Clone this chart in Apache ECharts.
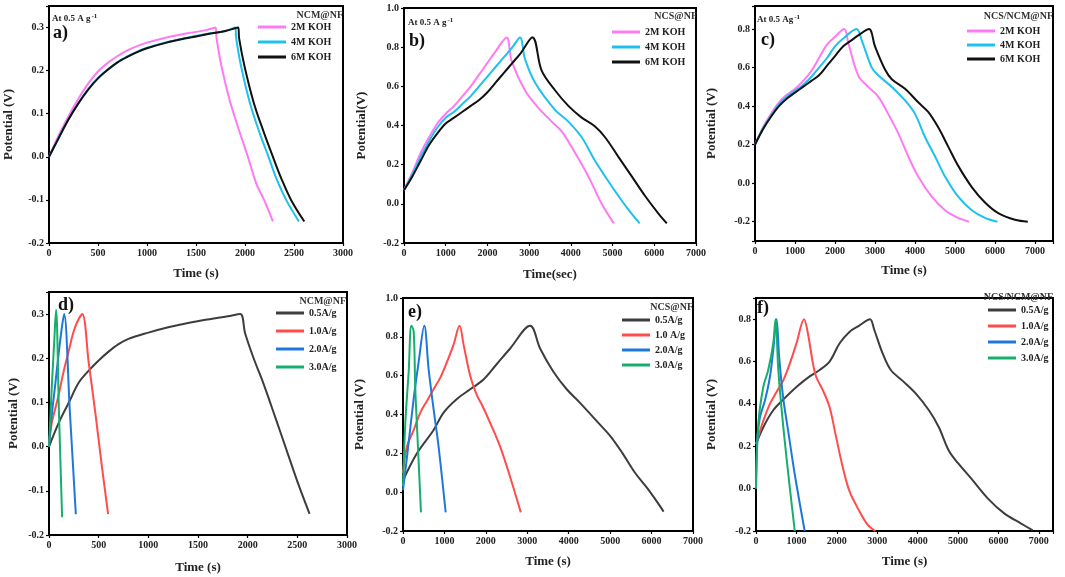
<!DOCTYPE html>
<html>
<head>
<meta charset="utf-8">
<title>GCD curves</title>
<script src="https://cdn.jsdelivr.net/npm/echarts@6/dist/echarts.min.js"></script>
<style>
  html, body { margin: 0; padding: 0; background: #fff; }
  #chart { width: 1065px; height: 577px; }
</style>
</head>
<body>
<div id="chart"></div>
<script>
// ---- data: [time (s), potential (V)] ----
// a) NCM@NF in different KOH
const a2M = [[0,0],[100,0.05],[200,0.095],[300,0.135],[400,0.17],[500,0.198],[600,0.218],[700,0.234],[800,0.247],[900,0.257],[1000,0.265],[1200,0.277],[1400,0.286],[1600,0.294],[1700,0.30],[1710,0.275],[1760,0.21],[1845,0.13],[1950,0.054],[2030,0.0],[2115,-0.062],[2195,-0.10],[2285,-0.15]];
const a4M = [[0,0],[100,0.045],[200,0.088],[300,0.125],[400,0.157],[500,0.183],[600,0.203],[700,0.22],[800,0.233],[900,0.244],[1000,0.253],[1200,0.266],[1400,0.276],[1600,0.285],[1800,0.292],[1900,0.30],[1910,0.275],[1960,0.21],[2050,0.125],[2150,0.055],[2240,0.0],[2320,-0.05],[2420,-0.10],[2550,-0.15]];
const a6M = [[0,0],[100,0.044],[200,0.087],[300,0.124],[400,0.156],[500,0.182],[600,0.202],[700,0.219],[800,0.232],[900,0.243],[1000,0.252],[1200,0.265],[1400,0.275],[1600,0.284],[1800,0.292],[1930,0.30],[1940,0.275],[1995,0.21],[2090,0.125],[2195,0.055],[2285,0.0],[2370,-0.05],[2470,-0.10],[2605,-0.15]];

// b) NCS@NF in different KOH
const b2M = [[0,0.07],[200,0.16],[400,0.26],[600,0.34],[800,0.41],[1000,0.46],[1200,0.50],[1400,0.55],[1600,0.60],[1800,0.66],[2000,0.72],[2200,0.78],[2460,0.85],[2580,0.73],[2900,0.58],[3180,0.50],[3540,0.42],[3780,0.37],[4020,0.29],[4420,0.14],[4740,0.0],[5030,-0.10]];
const b4M = [[0,0.07],[200,0.15],[400,0.24],[600,0.32],[800,0.39],[1000,0.44],[1200,0.47],[1400,0.51],[1600,0.55],[1800,0.60],[2000,0.65],[2200,0.70],[2400,0.75],[2600,0.80],[2780,0.85],[2900,0.74],[3140,0.62],[3620,0.48],[3940,0.42],[4260,0.34],[4580,0.22],[4980,0.09],[5380,-0.03],[5650,-0.10]];
const b6M = [[0,0.07],[200,0.14],[400,0.22],[600,0.30],[800,0.36],[1000,0.41],[1200,0.44],[1400,0.47],[1600,0.50],[1800,0.53],[2000,0.57],[2200,0.62],[2400,0.67],[2600,0.72],[2800,0.77],[3080,0.85],[3300,0.68],[3620,0.58],[3940,0.50],[4260,0.44],[4580,0.395],[4820,0.34],[5140,0.24],[5460,0.14],[5780,0.04],[6100,-0.05],[6300,-0.10]];

// c) NCS/NCM@NF in different KOH
const c2M = [[0,0.2],[200,0.29],[400,0.36],[600,0.42],[800,0.46],[1000,0.49],[1200,0.53],[1400,0.58],[1600,0.65],[1800,0.72],[2000,0.76],[2230,0.80],[2330,0.73],[2580,0.56],[2830,0.50],[3080,0.45],[3330,0.36],[3580,0.26],[3830,0.14],[4080,0.035],[4420,-0.07],[4750,-0.14],[5080,-0.18],[5350,-0.2]];
const c4M = [[0,0.2],[200,0.285],[400,0.35],[600,0.41],[800,0.45],[1000,0.48],[1200,0.51],[1400,0.55],[1600,0.60],[1800,0.65],[2000,0.71],[2200,0.75],[2540,0.80],[2670,0.74],[2920,0.60],[3080,0.56],[3420,0.50],[3750,0.43],[4000,0.36],[4250,0.24],[4500,0.14],[4750,0.035],[5080,-0.07],[5420,-0.14],[5750,-0.18],[6060,-0.2]];
const c6M = [[0,0.2],[200,0.28],[400,0.345],[600,0.40],[800,0.44],[1000,0.47],[1200,0.50],[1400,0.53],[1600,0.56],[1800,0.61],[2000,0.66],[2200,0.71],[2400,0.74],[2600,0.77],[2850,0.80],[3000,0.71],[3250,0.59],[3420,0.54],[3750,0.49],[4080,0.42],[4330,0.37],[4580,0.29],[4830,0.19],[5080,0.09],[5420,-0.02],[5750,-0.10],[6080,-0.155],[6500,-0.19],[6820,-0.2]];

// d) NCM@NF at different current densities
const d05 = [[0,0],[100,0.055],[200,0.10],[300,0.145],[400,0.172],[500,0.195],[600,0.215],[700,0.232],[800,0.244],[1000,0.258],[1200,0.27],[1400,0.28],[1600,0.288],[1800,0.295],[1925,0.30],[1975,0.256],[2060,0.20],[2160,0.142],[2280,0.065],[2395,-0.01],[2512,-0.086],[2623,-0.152]];
const d10 = [[0,0.008],[27,0.053],[61,0.084],[95,0.115],[145,0.168],[196,0.214],[247,0.26],[290,0.285],[335,0.30],[400,0.19],[470,0.07],[530,-0.04],[595,-0.153]];
const d20 = [[0,0],[27,0.069],[61,0.137],[95,0.206],[128,0.267],[152,0.30],[211,0.075],[270,-0.153]];
const d30 = [[0,0],[27,0.13],[54,0.244],[71,0.31],[100,0.08],[132,-0.16]];

// e) NCS@NF at different current densities
const e05 = [[0,0.06],[337,0.2],[739,0.32],[980,0.41],[1301,0.48],[1622,0.53],[1944,0.58],[2265,0.66],[2586,0.74],[3068,0.857],[3309,0.74],[3630,0.62],[3952,0.53],[4273,0.46],[4715,0.357],[5000,0.29],[5300,0.20],[5600,0.10],[5900,0.02],[6100,-0.04],[6290,-0.10]];
const e10 = [[0,0.1],[96,0.235],[257,0.32],[418,0.41],[578,0.47],[739,0.53],[900,0.59],[1060,0.67],[1221,0.76],[1365,0.857],[1462,0.76],[1622,0.60],[1783,0.50],[1904,0.45],[2104,0.357],[2345,0.235],[2586,0.078],[2843,-0.104]];
const e20 = [[0,0.01],[96,0.18],[257,0.48],[377,0.67],[514,0.857],[618,0.635],[739,0.426],[859,0.235],[1030,-0.104]];
const e30 = [[0,0.03],[56,0.357],[137,0.62],[201,0.857],[257,0.83],[297,0.53],[353,0.27],[434,-0.104]];

// f) NCS/NCM@NF at different current densities
const f05 = [[0,0.21],[180,0.29],[426,0.37],[672,0.42],[1000,0.48],[1328,0.53],[1574,0.56],[1820,0.60],[2066,0.685],[2311,0.74],[2557,0.77],[2820,0.80],[2926,0.75],[3131,0.64],[3336,0.56],[3623,0.51],[3951,0.45],[4279,0.37],[4525,0.29],[4770,0.18],[5000,0.12],[5329,0.047],[5740,-0.047],[6151,-0.118],[6562,-0.165],[6850,-0.197]];
const f10 = [[0,0.21],[180,0.32],[344,0.40],[508,0.456],[672,0.51],[836,0.59],[1000,0.685],[1189,0.80],[1287,0.73],[1410,0.59],[1492,0.527],[1656,0.464],[1820,0.385],[1984,0.242],[2148,0.10],[2311,-0.011],[2557,-0.106],[2762,-0.17],[2951,-0.2]];
const f20 = [[0,0],[33,0.226],[98,0.337],[221,0.416],[344,0.527],[426,0.653],[508,0.80],[574,0.62],[672,0.43],[795,0.274],[959,0.068],[1205,-0.2]];
const f30 = [[0,0],[57,0.305],[180,0.48],[303,0.56],[426,0.685],[484,0.80],[549,0.57],[631,0.38],[754,0.147],[959,-0.2]];

const kohNames = ['2M KOH', '4M KOH', '6M KOH'];
const rateNames = ['0.5A/g', '1.0A/g', '2.0A/g', '3.0A/g'];
const rateNamesE = ['0.5A/g', '1.0 A/g', '2.0A/g', '3.0A/g'];

const FONT = '"Liberation Serif", "DejaVu Serif", serif';
const PINK = '#ff7af2', CYAN = '#1ec0f0', BLACK = '#111111';
const GREY = '#3d3d3d', RED = '#ff4c4c', BLUE = '#1e78dc', GREEN = '#16ae6c';

// layout of the six panels (pixels)
const panels = [
  { rect: [49, 6, 294, 237], x: [0, 3000, 500], y: [-0.2, 0.35, 0.1], xName: 'Time (s)', yName: 'Potential (V)', xGap: 24, yGap: 34,
    names: kohNames, data: [a2M, a4M, a6M], colors: [PINK, CYAN, BLACK],
    legend: [258, 22, 5], head: ['NCM@NF', 343, 15], letter: ['a)', 53, 33], rate: ['At 0.5 A g{s|-1}', 52, 19] },
  { rect: [404, 8, 292, 235], x: [0, 7000, 1000], y: [-0.2, 1.0, 0.2], xName: 'Time(sec)', yName: 'Potential(V)', xGap: 25, yGap: 36,
    names: kohNames, data: [b2M, b4M, b6M], colors: [PINK, CYAN, BLACK],
    legend: [612, 27, 5], head: ['NCS@NF', 697, 16], letter: ['b)', 409, 41], rate: ['At 0.5 A g{s|-1}', 408, 23] },
  { rect: [755, 6, 298, 235], x: [0, 7450, 1000], y: [-0.3, 0.92, null], xName: 'Time (s)', yName: 'Potential (V)', xGap: 23, yGap: 37,
    names: kohNames, data: [c2M, c4M, c6M], colors: [PINK, CYAN, BLACK],
    legend: [967, 26, 4], head: ['NCS/NCM@NF', 1053, 16], letter: ['c)', 761, 40], rate: ['At 0.5 Ag{s|-1}', 757, 20] },
  { rect: [49, 292, 298, 243], x: [0, 3000, 500], y: [-0.2, 0.35, 0.1], xName: 'Time (s)', yName: 'Potential (V)', xGap: 26, yGap: 29,
    names: rateNames, data: [d05, d10, d20, d30], colors: [GREY, RED, BLUE, GREEN],
    legend: [276, 308, 8], head: ['NCM@NF', 346, 301], letter: ['d)', 58, 305] },
  { rect: [403, 298, 290, 233], x: [0, 7000, 1000], y: [-0.2, 1.0, 0.2], xName: 'Time (s)', yName: 'Potential (V)', xGap: 24, yGap: 37,
    names: rateNamesE, data: [e05, e10, e20, e30], colors: [GREY, RED, BLUE, GREEN],
    legend: [622, 315, 5], head: ['NCS@NF', 693, 307], letter: ['e)', 408, 312] },
  { rect: [756, 298, 297, 233], x: [0, 7350, 1000], y: [-0.2, 0.9, 0.2], xName: 'Time (s)', yName: 'Potential (V)', xGap: 24, yGap: 38,
    names: rateNames, data: [f05, f10, f20, f30], colors: [GREY, RED, BLUE, GREEN],
    legend: [988, 305, 6], head: ['NCS/NCM@NF', 1053, 297], letter: ['f)', 757, 308] }
];

const onStep = (v, step) => Math.abs(v / step - Math.round(v / step)) < 1e-6;

const labelStyle = { fontFamily: FONT, fontWeight: 'bold', fontSize: 10, color: '#222' };
const nameStyle = { fontFamily: FONT, fontWeight: 'bold', fontSize: 13, color: '#222' };
const axisLine = { show: true, onZero: false, lineStyle: { color: '#000', width: 2 } };
const axisTick = { show: true, inside: false, length: 3, lineStyle: { color: '#000', width: 1.2 } };

const grid = [], xAxis = [], yAxis = [], series = [], legend = [], graphic = [];

panels.forEach((p, i) => {
  grid.push({ left: p.rect[0], top: p.rect[1], width: p.rect[2], height: p.rect[3],
    show: true, borderColor: '#000', borderWidth: 2, backgroundColor: 'transparent' });

  xAxis.push({ type: 'value', gridIndex: i, min: p.x[0], max: p.x[1], interval: p.x[2],
    name: p.xName, nameLocation: 'middle', nameGap: p.xGap, nameTextStyle: nameStyle,
    axisLine, axisTick, splitLine: { show: false },
    axisLabel: Object.assign({ margin: 5, formatter: v => onStep(v, p.x[2]) ? String(v) : '' }, labelStyle) });

  const yStep = p.y[2] || 0.2;
  const ya = { type: 'value', gridIndex: i, min: p.y[0], max: p.y[1],
    name: p.yName, nameLocation: 'middle', nameGap: p.yGap, nameTextStyle: nameStyle,
    axisLine, axisTick, splitLine: { show: false },
    axisLabel: Object.assign({ margin: 5, formatter: v => onStep(v, yStep) ? v.toFixed(1) : '' }, labelStyle) };
  if (p.y[2]) ya.interval = p.y[2]; else ya.splitNumber = 5;
  yAxis.push(ya);

  p.names.forEach((n, k) => {
    series.push({ type: 'line', name: n, xAxisIndex: i, yAxisIndex: i, data: p.data[k],
      showSymbol: false, symbol: 'none', smooth: 0.35,
      lineStyle: { color: p.colors[k], width: 2 }, itemStyle: { color: p.colors[k] } });
  });

  legend.push({ orient: 'vertical', left: p.legend[0], top: p.legend[1], itemGap: p.legend[2],
    padding: 0, itemWidth: 28, itemHeight: 3, icon: 'rect', selectedMode: false,
    data: p.names, textStyle: { fontFamily: FONT, fontWeight: 'bold', fontSize: 10, color: '#222' } });

  graphic.push({ type: 'text', x: p.head[1], y: p.head[2],
    style: { text: p.head[0], textAlign: 'right', textVerticalAlign: 'middle',
      font: 'bold 10px ' + FONT, fill: '#333' } });
  graphic.push({ type: 'text', x: p.letter[1], y: p.letter[2],
    style: { text: p.letter[0], textAlign: 'left', textVerticalAlign: 'middle',
      font: 'bold 18px ' + FONT, fill: '#111' } });
  if (p.rate) {
    graphic.push({ type: 'text', x: p.rate[1], y: p.rate[2],
      style: { text: p.rate[0], textAlign: 'left', textVerticalAlign: 'middle',
        font: 'bold 9px ' + FONT, fill: '#222',
        rich: { s: { fontSize: 7, fontWeight: 'bold', fontFamily: FONT, verticalAlign: 'top', padding: [0, 0, 5, 1] } } } });
  }
});

const chart = echarts.init(document.getElementById('chart'), null, { renderer: 'canvas' });
chart.setOption({
  animation: false,
  backgroundColor: '#fff',
  grid, xAxis, yAxis, series, legend, graphic
});
</script>
</body>
</html>
